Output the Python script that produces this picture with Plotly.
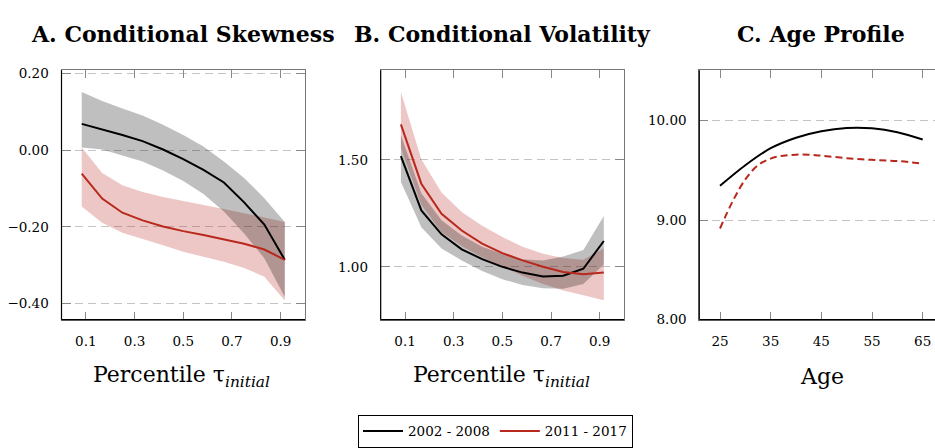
import plotly.graph_objects as go

# ---------------- data ----------------
tau = [0.083, 0.167, 0.25, 0.333, 0.417, 0.5, 0.583, 0.667, 0.75, 0.833, 0.917]

skew_0208 = [0.069, 0.055, 0.040, 0.024, 0.002, -0.023, -0.051, -0.084, -0.136, -0.194, -0.286]
skew_0208_hi = [0.152, 0.129, 0.109, 0.091, 0.067, 0.040, 0.010, -0.029, -0.072, -0.125, -0.187]
skew_0208_lo = [0.007, 0.002, -0.013, -0.029, -0.053, -0.080, -0.114, -0.160, -0.217, -0.282, -0.383]
skew_1117 = [-0.061, -0.126, -0.163, -0.183, -0.199, -0.211, -0.221, -0.232, -0.244, -0.259, -0.286]
skew_1117_hi = [0.007, -0.059, -0.091, -0.109, -0.122, -0.133, -0.143, -0.153, -0.164, -0.175, -0.187]
skew_1117_lo = [-0.147, -0.189, -0.215, -0.232, -0.248, -0.265, -0.278, -0.291, -0.307, -0.330, -0.392]

vol_0208 = [1.518, 1.264, 1.152, 1.082, 1.036, 1.000, 0.973, 0.955, 0.958, 0.991, 1.121]
vol_0208_hi = [1.617, 1.344, 1.218, 1.147, 1.094, 1.061, 1.036, 1.030, 1.048, 1.079, 1.238]
vol_0208_lo = [1.397, 1.185, 1.086, 1.030, 0.980, 0.942, 0.915, 0.900, 0.897, 0.920, 1.011]
vol_1117 = [1.667, 1.389, 1.248, 1.170, 1.109, 1.064, 1.030, 1.000, 0.976, 0.965, 0.973]
vol_1117_hi = [1.818, 1.503, 1.348, 1.256, 1.192, 1.139, 1.094, 1.061, 1.041, 1.033, 1.086]
vol_1117_lo = [1.556, 1.291, 1.162, 1.097, 1.045, 1.000, 0.958, 0.920, 0.889, 0.867, 0.844]

age_0208 = [25, 30, 35, 40, 45, 50, 55, 60, 65]
prof_0208 = [9.345, 9.552, 9.723, 9.829, 9.894, 9.926, 9.923, 9.884, 9.810]
age_1117 = [25, 27.5, 30, 32.5, 35, 37.5, 40, 42.5, 45, 50, 55, 60, 65]
prof_1117 = [8.916, 9.190, 9.410, 9.552, 9.619, 9.648, 9.658, 9.658, 9.648, 9.623, 9.606, 9.594, 9.568]

tau_ticks = [0.1, 0.3, 0.5, 0.7, 0.9]
skew_ticks = [-0.4, -0.2, 0.0, 0.2]
vol_ticks = [1.0, 1.5]
age_ticks = [25, 35, 45, 55, 65]
prof_ticks = [8, 9, 10]

series_names = ["2002 - 2008", "2011 - 2017"]
titles = ["A. Conditional Skewness", "B. Conditional Volatility", "C. Age Profile"]

# ---------------- style ----------------
BLACK = "#000000"
RED = "rgb(185,40,28)"
RED_BAND = "rgba(180,40,30,0.26)"
GRAY_BAND = "rgba(0,0,0,0.25)"
SERIF = "DejaVu Serif"

W, H = 935, 448

fig = go.Figure()


def band(x, hi, lo, color, xa, ya):
    fig.add_trace(go.Scatter(
        x=list(x) + list(x)[::-1], y=list(hi) + list(lo)[::-1],
        fill="toself", fillcolor=color, line=dict(width=0),
        mode="lines", hoverinfo="skip", showlegend=False, xaxis=xa, yaxis=ya))


def line(x, y, color, xa, ya, name=None, legend=False, dash="solid", shape="linear"):
    fig.add_trace(go.Scatter(
        x=x, y=y, mode="lines", name=name, showlegend=legend, legendgroup=name,
        line=dict(color=color, width=2, dash=dash, shape=shape),
        xaxis=xa, yaxis=ya))


# Panel A
band(tau, skew_1117_hi, skew_1117_lo, RED_BAND, "x", "y")
band(tau, skew_0208_hi, skew_0208_lo, GRAY_BAND, "x", "y")
line(tau, skew_0208, BLACK, "x", "y", series_names[0], True)
line(tau, skew_1117, RED, "x", "y", series_names[1], True)

# Panel B
band(tau, vol_1117_hi, vol_1117_lo, RED_BAND, "x2", "y2")
band(tau, vol_0208_hi, vol_0208_lo, GRAY_BAND, "x2", "y2")
line(tau, vol_0208, BLACK, "x2", "y2", series_names[0])
line(tau, vol_1117, RED, "x2", "y2", series_names[1])

# Panel C
line(age_0208, prof_0208, BLACK, "x3", "y3", series_names[0], shape="spline")
line(age_1117, prof_1117, RED, "x3", "y3", series_names[1], dash="7px,4px", shape="spline")

# ---------------- layout ----------------
ydom = [1 - 325.5 / H, 1 - 67.5 / H]
tickfont = dict(family=SERIF, size=13.5, color="#000")


def xaxis(domain, rng, tickvals, fmt, mirror="allticks"):
    return dict(domain=domain, range=rng, tickvals=tickvals, tickformat=fmt,
                ticks="inside", ticklen=8, tickcolor="#888", tickwidth=1,
                showline=True, linecolor="#777", linewidth=1, mirror=mirror,
                showgrid=False, zeroline=False, tickfont=tickfont,
                ticklabelstandoff=9, fixedrange=True)


def yaxis(anchor, rng, tickvals, fmt, mirror="allticks"):
    return dict(domain=ydom, range=rng, tickvals=tickvals, tickformat=fmt, anchor=anchor,
                ticks="inside", ticklen=9, tickcolor="#888", tickwidth=1,
                showline=True, linecolor="#777", linewidth=1, mirror=mirror,
                showgrid=True, gridcolor="#c4c4c4", gridwidth=1, griddash="8px,5px",
                zeroline=False, tickfont=tickfont, ticklabelstandoff=9, fixedrange=True)


xA = [61.5 / W, 305 / W]
xB = [380.7 / W, 624 / W]
xC = [699.3 / W, 1.0]

fig.update_layout(
    width=W, height=H,
    margin=dict(l=0, r=0, t=0, b=0),
    paper_bgcolor="white", plot_bgcolor="white",
    font=dict(family=SERIF, color="#000"),
    xaxis=dict(xaxis(xA, [0, 1], tau_ticks, ".1f"), anchor="y"),
    yaxis=yaxis("x", [-0.442, 0.209], skew_ticks, ".2f"),
    xaxis2=dict(xaxis(xB, [0, 1], tau_ticks, ".1f"), anchor="y2"),
    yaxis2=yaxis("x2", [0.753, 1.92], vol_ticks, ".2f"),
    xaxis3=dict(xaxis(xC, [20.915, 67.43], age_ticks, "d"), anchor="y3"),
    yaxis3=yaxis("x3", [8.0, 10.507], prof_ticks, ".2f", mirror=False),
    showlegend=True,
    legend=dict(orientation="h", x=358 / W, y=1 - 424 / H, xanchor="left", yanchor="top",
                bordercolor="#000", borderwidth=1, bgcolor="white",
                font=dict(family=SERIF, size=13.5, color="#000"),
                itemwidth=40, tracegroupgap=0),
)

# black left/bottom frame lines (pgfplots style)
for xa, ya in [("x", "y"), ("x2", "y2"), ("x3", "y3")]:
    fig.add_shape(type="line", xref=f"{xa} domain", yref=f"{ya} domain",
                  x0=0, x1=0, y0=0, y1=1, line=dict(color="#000", width=1.2), layer="above")
    fig.add_shape(type="line", xref=f"{xa} domain", yref=f"{ya} domain",
                  x0=0, x1=1, y0=0, y1=0, line=dict(color="#000", width=1.2), layer="above")

# panel titles
for cx, t in zip([183 / W, 502 / W, 821 / W], titles):
    fig.add_annotation(x=cx, y=1 - 30 / H, xref="paper", yref="paper", text=f"<b>{t}</b>",
                       showarrow=False, xanchor="center", yanchor="middle",
                       font=dict(family=SERIF, size=22, color="#000"))

# axis titles
xlab = "Percentile τ<sub><i>initial</i></sub>"
for cx, t in zip([181.7 / W, 501.7 / W, 821.7 / W], [xlab, xlab, "Age"]):
    fig.add_annotation(x=cx, y=1 - 384 / H, xref="paper", yref="paper", text=t,
                       showarrow=False, xanchor="center", yanchor="middle",
                       font=dict(family=SERIF, size=22, color="#000"))

fig.write_html("out.html")
